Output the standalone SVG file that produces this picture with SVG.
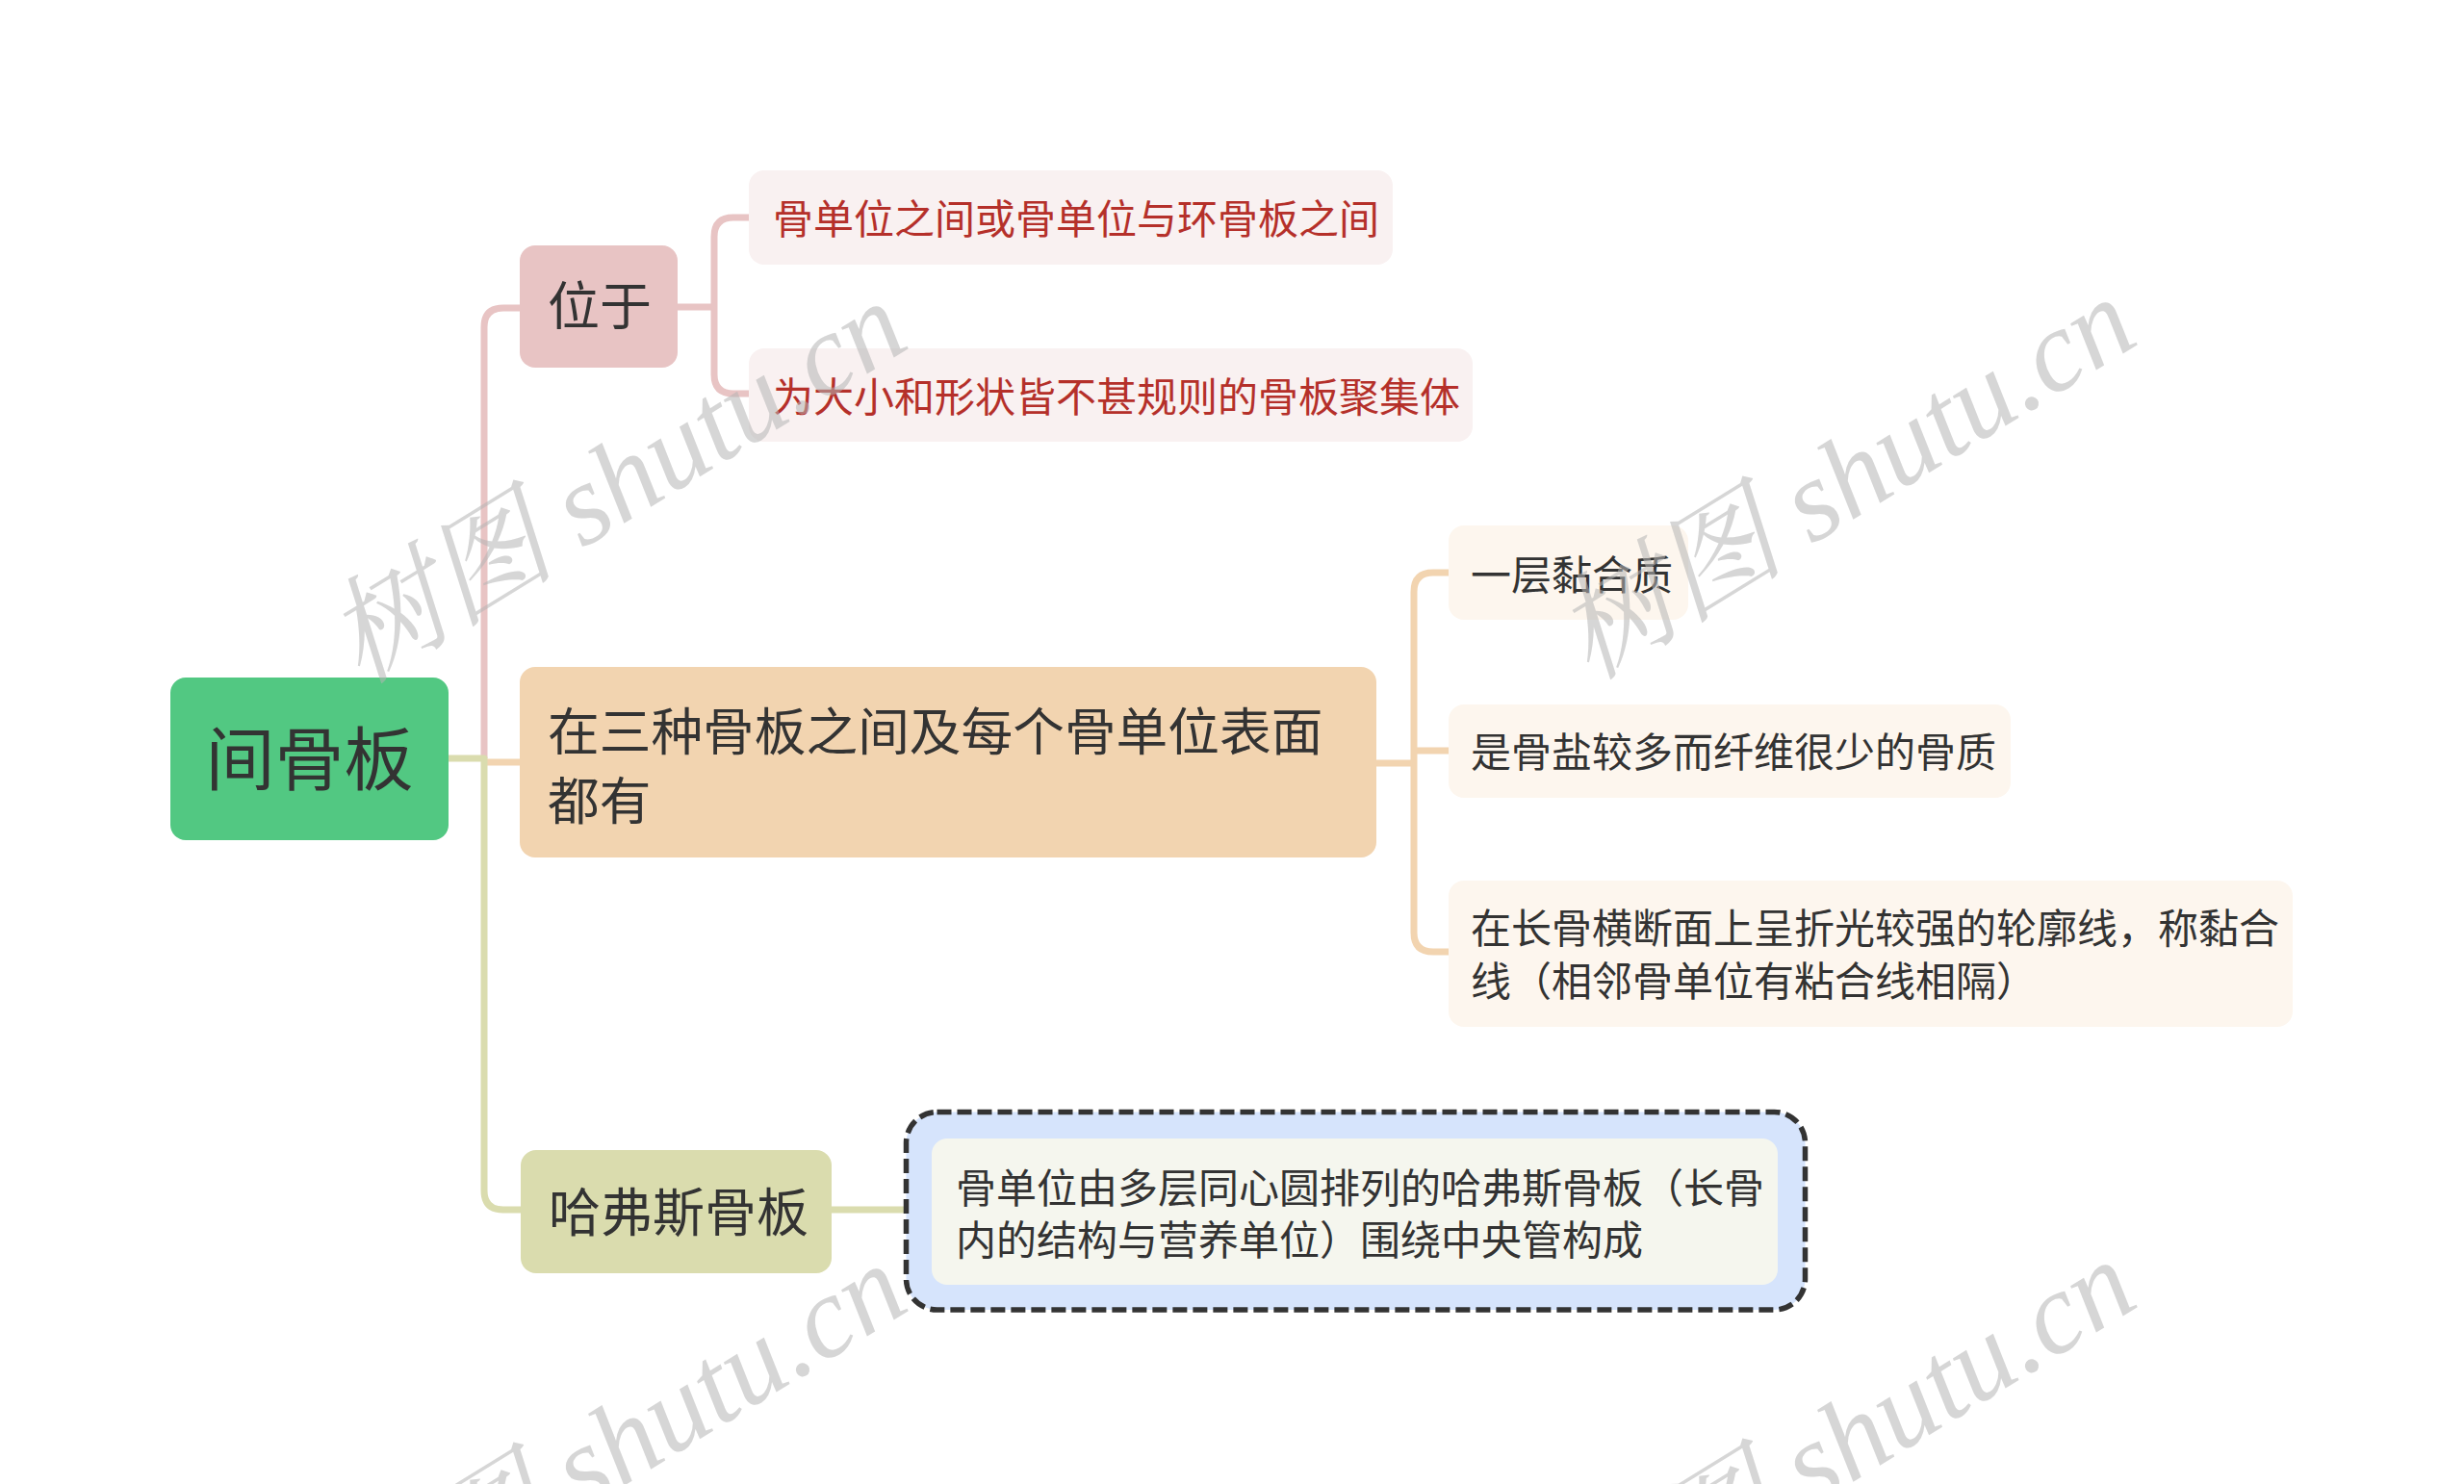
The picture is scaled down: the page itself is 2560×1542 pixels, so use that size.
<svg xmlns="http://www.w3.org/2000/svg" width="2560" height="1542" viewBox="0 0 2560 1542">
<style>
.t{font-family:"Noto Sans CJK SC","Noto Sans",sans-serif;fill:#333333}
.red{fill:#b5302a}
.c{fill:none;stroke-width:7;stroke-linecap:butt;stroke-linejoin:round}
.wm{font-family:"Liberation Serif","Noto Serif CJK SC","Noto Sans CJK SC",serif;font-style:italic;font-size:120px;fill:#b4b4b4;fill-opacity:0.55}
</style>
<rect x="0" y="0" width="2560" height="1542" fill="#ffffff"/>
<g id="connectors">
<path class="c" stroke="#f2d4b0" d="M503 792 H541"/>
<path class="c" stroke="#e8c4c4" d="M503 788 V340 Q503 320 523 320 H541"/>
<path class="c" stroke="#dadcae" d="M465 788 H503 V1237 Q503 1257 523 1257 H542"/>
<path class="c" stroke="#e8c4c4" d="M703 319 H742 M742 319 V246 Q742 226 762 226 H779 M742 319 V389 Q742 409 762 409 H779"/>
<path class="c" stroke="#f2d4b0" d="M1429 793 H1469 M1469 793 V615 Q1469 595 1489 595 H1506 M1469 780 H1506 M1469 793 V969 Q1469 989 1489 989 H1506"/>
<path class="c" stroke="#dadcae" d="M863 1257 H969"/>
</g>
<g id="root">
<rect x="177" y="704" width="289" height="169" rx="16" fill="#52c882"/>
<text class="t" x="321.5" y="815" font-size="72" text-anchor="middle">间骨板</text>
</g>
<g id="n-weiyu">
<rect x="540" y="255" width="164" height="127" rx="16" fill="#e8c4c4"/>
<text class="t" x="569" y="338" font-size="54">位于</text>
</g>
<g id="n-leaf1">
<rect x="778" y="177" width="669" height="98" rx="16" fill="#f9f1f1"/>
<text class="t red" x="803" y="243" font-size="42">骨单位之间或骨单位与环骨板之间</text>
</g>
<g id="n-leaf2">
<rect x="778" y="362" width="752" height="97" rx="16" fill="#f9f1f1"/>
<text class="t red" x="803" y="428" font-size="42">为大小和形状皆不甚规则的骨板聚集体</text>
</g>
<g id="n-between">
<rect x="540" y="693" width="890" height="198" rx="16" fill="#f2d4b0"/>
<text class="t" x="569" y="780" font-size="53.7">在三种骨板之间及每个骨单位表面</text>
<text class="t" x="569" y="852" font-size="53.7">都有</text>
</g>
<g id="n-layer">
<rect x="1505" y="546" width="249" height="98" rx="16" fill="#fdf6ee"/>
<text class="t" x="1528" y="613" font-size="42">一层黏合质</text>
</g>
<g id="n-salt">
<rect x="1505" y="732" width="584" height="97" rx="16" fill="#fdf6ee"/>
<text class="t" x="1528" y="797" font-size="42">是骨盐较多而纤维很少的骨质</text>
</g>
<g id="n-line">
<rect x="1505" y="915" width="877" height="152" rx="16" fill="#fdf6ee"/>
<text class="t" x="1528" y="980" font-size="42">在长骨横断面上呈折光较强的轮廓线，称黏合</text>
<text class="t" x="1528" y="1035" font-size="42">线（相邻骨单位有粘合线相隔）</text>
</g>
<g id="n-havers">
<rect x="541" y="1195" width="323" height="128" rx="16" fill="#dadcae"/>
<text class="t" x="570" y="1280" font-size="54">哈弗斯骨板</text>
</g>
<g id="n-havers-desc">
<rect x="941.5" y="1155.5" width="934" height="205.5" rx="32" fill="#d6e4fc" stroke="#333333" stroke-width="5.5" stroke-dasharray="15 6"/>
<rect x="968" y="1183" width="879" height="152" rx="16" fill="#f5f6ee"/>
<text class="t" x="993" y="1249.5" font-size="42">骨单位由多层同心圆排列的哈弗斯骨板（长骨</text>
<text class="t" x="993" y="1303.5" font-size="42">内的结构与营养单位）围绕中央管构成</text>
</g>
<g id="watermarks">
<text class="wm" transform="translate(375 712) rotate(-31.6)">树图 shutu.cn</text>
<text class="wm" transform="translate(1652 708) rotate(-31.6)">树图 shutu.cn</text>
<text class="wm" transform="translate(375 1712) rotate(-31.6)">树图 shutu.cn</text>
<text class="wm" transform="translate(1652 1708) rotate(-31.6)">树图 shutu.cn</text>
</g>
</svg>
